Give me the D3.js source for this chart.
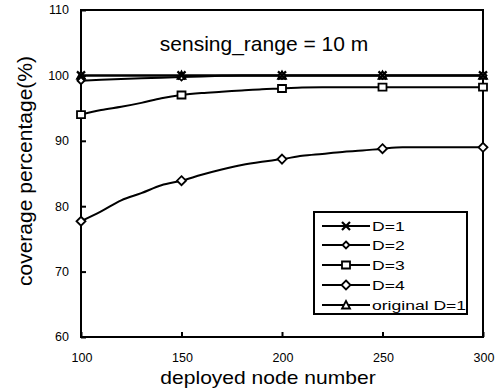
<!DOCTYPE html>
<html>
<head>
<meta charset="utf-8">
<script src="https://cdn.jsdelivr.net/npm/d3@7"></script>
<style>
  body { margin: 0; background: #fff; }
  text { font-family: "Liberation Sans", Arial, sans-serif; fill: #000; }
</style>
</head>
<body>
<div id="chart"></div>
<script>
// node counts (one sample every 10 nodes), markers every 50
const nodes = [100, 110, 120, 130, 140, 150, 160, 170, 180, 190, 200,
  210, 220, 230, 240, 250, 260, 270, 280, 290, 300];
const markerNodes = [100, 150, 200, 250, 300];

const d1 = [100, 100, 100, 100, 100, 100, 100, 100, 100, 100, 100,
  100, 100, 100, 100, 100, 100, 100, 100, 100, 100];
const d2 = [99.2, 99.35, 99.45, 99.55, 99.65, 99.75, 99.85, 99.95, 100, 100, 100,
  100, 100, 100, 100, 100, 100, 100, 100, 100, 100];
const d3v = [94.0, 94.7, 95.2, 95.8, 96.5, 97.0, 97.3, 97.5, 97.7, 97.9, 98.0,
  98.15, 98.2, 98.2, 98.2, 98.2, 98.2, 98.2, 98.2, 98.2, 98.2];
const d4 = [77.7, 79.2, 80.9, 82.0, 83.2, 83.9, 84.8, 85.6, 86.3, 86.8, 87.2,
  87.7, 88.0, 88.3, 88.5, 88.8, 89.0, 89.0, 89.0, 89.0, 89.0];
const orig = [100, 100, 100, 100, 100, 100, 100, 100, 100, 100, 100,
  100, 100, 100, 100, 100, 100, 100, 100, 100, 100];

const seriesNames = ['D=1', 'D=2', 'D=3', 'D=4', 'original D=1'];
const seriesValues = [d1, d2, d3v, d4, orig];
const seriesSymbols = ['cross', 'smalldiamond', 'square', 'diamond', 'triangle'];

const xTicks = [100, 150, 200, 250, 300];
const yTicks = [60, 70, 80, 90, 100, 110];

const width = 495;
const height = 392;
const margin = { top: 10, right: 12, bottom: 55, left: 81 };

const svg = d3.select('#chart')
  .append('svg')
  .attr('width', width)
  .attr('height', height);

const x = d3.scaleLinear()
  .domain([100, 300])
  .range([margin.left, width - margin.right]);
const y = d3.scaleLinear()
  .domain([60, 110])
  .range([height - margin.bottom, margin.top]);

// frame
svg.append('rect')
  .attr('x', x(100))
  .attr('y', y(110))
  .attr('width', x(300) - x(100))
  .attr('height', y(60) - y(110))
  .attr('fill', 'none')
  .attr('stroke', '#000')
  .attr('stroke-width', 2);

// axes with inward ticks
const xAxis = svg.append('g')
  .attr('transform', `translate(0,${y(60)})`)
  .call(d3.axisTop(x).tickValues(xTicks).tickSize(5).tickFormat(''));
xAxis.select('.domain').remove();
xAxis.selectAll('line').attr('stroke-width', 2);

svg.selectAll('.xlabel')
  .data(xTicks)
  .enter()
  .append('text')
  .attr('class', 'xlabel')
  .attr('x', (d) => x(d) + 1)
  .attr('y', y(60) + 25)
  .attr('text-anchor', 'middle')
  .style('font-size', '12.5px')
  .text((d) => d);

const yAxis = svg.append('g')
  .attr('transform', `translate(${x(100)},0)`)
  .call(d3.axisRight(y).tickValues(yTicks).tickSize(5).tickFormat(''));
yAxis.select('.domain').remove();
yAxis.selectAll('line').attr('stroke-width', 2);

svg.selectAll('.ylabel')
  .data(yTicks)
  .enter()
  .append('text')
  .attr('class', 'ylabel')
  .attr('x', x(100) - 12)
  .attr('y', (d) => y(d))
  .attr('dy', '0.35em')
  .attr('text-anchor', 'end')
  .style('font-size', '12.5px')
  .text((d) => d);

// axis titles
svg.append('text')
  .attr('transform', 'translate(268,384) scale(1.17,1)')
  .attr('text-anchor', 'middle')
  .style('font-size', '18px')
  .text('deployed node number');

svg.append('text')
  .attr('transform', 'translate(32,171) rotate(-90)')
  .attr('text-anchor', 'middle')
  .style('font-size', '21px')
  .text('coverage percentage(%)');

svg.append('text')
  .attr('x', 264)
  .attr('y', 51)
  .attr('text-anchor', 'middle')
  .style('font-size', '21px')
  .text('sensing_range = 10 m');

// symbols
const symbolPath = {
  cross: 'M-4,-4L4,4M-4,4L4,-4',
  diamond: 'M0,-4.5L4.5,0L0,4.5L-4.5,0Z',
  smalldiamond: 'M0,-3.5L3.5,0L0,3.5L-3.5,0Z',
  square: 'M-4,-3.5H4V3.5H-4Z',
  triangle: 'M0,-4L4,3.5H-4Z',
};

function drawMarker(g, kind, cx, cy) {
  g.append('path')
    .attr('transform', `translate(${cx},${cy})`)
    .attr('d', symbolPath[kind])
    .attr('fill', kind === 'cross' ? 'none' : '#fff')
    .attr('stroke', '#000')
    .attr('stroke-width', kind === 'cross' ? 2.2 : 1.8);
}

const line = d3.line()
  .x((d) => x(d[0]))
  .y((d) => y(d[1]))
  .curve(d3.curveMonotoneX);

const plot = svg.append('g');
seriesValues.forEach((vals) => {
  const pts = nodes.map((n, j) => [n, vals[j]]);
  plot.append('path')
    .datum(pts)
    .attr('d', line)
    .attr('fill', 'none')
    .attr('stroke', '#000')
    .attr('stroke-width', 2);
});
// markers drawn in reverse order so crosses sit on top
[4, 3, 2, 1, 0].forEach((i) => {
  const vals = seriesValues[i];
  markerNodes.forEach((n) => {
    const j = nodes.indexOf(n);
    drawMarker(plot, seriesSymbols[i], x(n), y(vals[j]));
  });
});

// legend
const legendRows = [226, 245, 265, 285, 305];
const legend = svg.append('g');
legend.append('rect')
  .attr('x', 314)
  .attr('y', 212)
  .attr('width', 153)
  .attr('height', 102)
  .attr('fill', '#fff')
  .attr('stroke', '#000')
  .attr('stroke-width', 2);

seriesNames.forEach((name, i) => {
  const ly = legendRows[i];
  legend.append('line')
    .attr('x1', 322)
    .attr('x2', 370)
    .attr('y1', ly)
    .attr('y2', ly)
    .attr('stroke', '#000')
    .attr('stroke-width', 2);
  drawMarker(legend, seriesSymbols[i], 346, ly);
  legend.append('text')
    .attr('transform', `translate(372,${ly}) scale(1.3,1)`)
    .attr('dy', '0.36em')
    .style('font-size', '13.5px')
    .text(name);
});
</script>
</body>
</html>
